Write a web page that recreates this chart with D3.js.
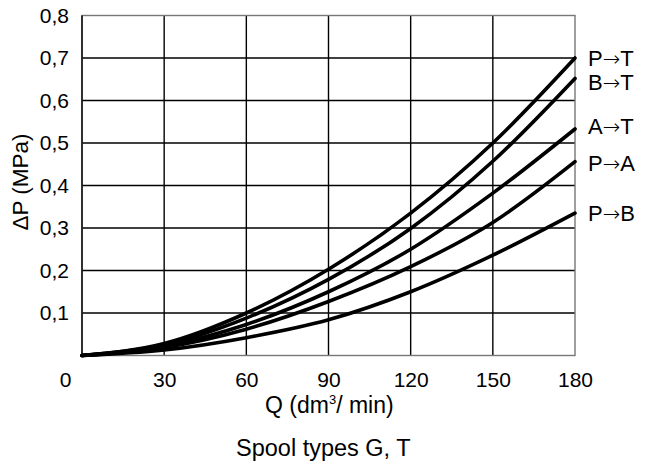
<!DOCTYPE html>
<html>
<head>
<meta charset="utf-8">
<script src="https://cdn.jsdelivr.net/npm/d3@7"></script>
<style>
  body { margin: 0; background: #fff; }
  text { font-family: "Liberation Sans", Arial, sans-serif; fill: #000; }
</style>
</head>
<body>
<svg id="chart" width="645" height="468"></svg>
<script>
// flow values (dm3/min)
const flow = [0, 30, 60, 90, 120, 150, 180];

// pressure drop (MPa) per connection
const seriesFrom = ["P", "B", "A", "P", "P"];
const seriesTo = ["T", "T", "T", "A", "B"];
const pT = [0, 0.028, 0.100, 0.203, 0.335, 0.500, 0.700];
const bT = [0, 0.025, 0.088, 0.179, 0.299, 0.457, 0.652];
const aT = [0, 0.022, 0.073, 0.150, 0.250, 0.382, 0.533];
const pA = [0, 0.019, 0.062, 0.127, 0.209, 0.313, 0.456];
const pB = [0, 0.013, 0.042, 0.084, 0.150, 0.236, 0.335];

const xTicks = [0, 30, 60, 90, 120, 150, 180];
const yTicks = [0.1, 0.2, 0.3, 0.4, 0.5, 0.6, 0.7, 0.8];

var margin = { top: 15.5, right: 70, bottom: 112.5, left: 82 },
  width = 645 - margin.left - margin.right,
  height = 468 - margin.top - margin.bottom;

const svg = d3.select("#chart");
const g = svg.append("g")
  .attr("transform", "translate(" + margin.left + "," + margin.top + ")");

var x = d3.scaleLinear().domain([0, 180]).range([0, width]);
var y = d3.scaleLinear().domain([0, 0.8]).range([height, 0]);

// grid
g.append("g")
  .selectAll("line")
  .data(yTicks.slice(0, -1))
  .join("line")
  .attr("x1", 0).attr("x2", width)
  .attr("y1", d => y(d)).attr("y2", d => y(d))
  .attr("stroke", "#000").attr("stroke-width", 1.4);

g.append("g")
  .selectAll("line")
  .data(xTicks.slice(1, -1))
  .join("line")
  .attr("x1", d => x(d)).attr("x2", d => x(d))
  .attr("y1", 0).attr("y2", height)
  .attr("stroke", "#000").attr("stroke-width", 1.4);

// frame: top/right/bottom grey, left black
g.append("rect")
  .attr("width", width).attr("height", height)
  .attr("fill", "none").attr("stroke", "#777").attr("stroke-width", 1.4);
g.append("line")
  .attr("x1", 0).attr("x2", 0).attr("y1", 0).attr("y2", height)
  .attr("stroke", "#000").attr("stroke-width", 1.4);

// axes (labels only)
const xAxis = g.append("g")
  .attr("transform", "translate(0," + height + ")")
  .call(d3.axisBottom(x).tickValues(xTicks).tickSize(0).tickPadding(17));
const yAxis = g.append("g")
  .call(d3.axisLeft(y).tickValues(yTicks).tickSize(0).tickPadding(13)
    .tickFormat(d => d3.format(".1f")(d).replace(".", ",")));
[xAxis, yAxis].forEach(a => {
  a.select(".domain").remove();
  a.selectAll("text").attr("font-size", 21).attr("font-family", "Liberation Sans, Arial, sans-serif");
});
// the "0" sits left of the corner
xAxis.selectAll(".tick").filter(d => d === 0).select("text").attr("dx", -17);

// curves
const allSeries = [pT, bT, aT, pA, pB];
const labelDy = [0, 4, -3, 1, 0];
const line = d3.line()
  .x((d, i) => x(flow[i]))
  .y(d => y(d))
  .curve(d3.curveMonotoneX);

allSeries.forEach((s, k) => {
  g.append("path")
    .datum(s)
    .attr("d", line)
    .attr("fill", "none")
    .attr("stroke", "#000")
    .attr("stroke-width", 3.6)
    .attr("stroke-linecap", "round");

  const lab = g.append("text")
    .attr("x", x(180) + 13)
    .attr("y", y(s[s.length - 1]) + labelDy[k])
    .attr("dy", "0.36em")
    .attr("font-size", 22);
  lab.append("tspan").text(seriesFrom[k]);
  lab.append("tspan")
    .attr("font-family", "DejaVu Sans")
    .attr("font-size", 21)
    .attr("font-weight", 200)
    .text("\u2192");
  lab.append("tspan").text(seriesTo[k]);
});

// titles
const xt = svg.append("text")
  .attr("x", 265).attr("y", 413)
  .attr("font-size", 23);
xt.append("tspan").text("Q (dm");
xt.append("tspan").attr("font-size", 13).attr("dy", -9).text("3");
xt.append("tspan").attr("dy", 9).text("/ min)");

svg.append("text")
  .attr("transform", "translate(28,182) rotate(-90)")
  .attr("text-anchor", "middle")
  .attr("font-size", 22.5)
  .text("\u0394P (MPa)");

svg.append("text")
  .attr("x", 236).attr("y", 456)
  .attr("font-size", 23.5)
  .text("Spool types G, T");
</script>
</body>
</html>
